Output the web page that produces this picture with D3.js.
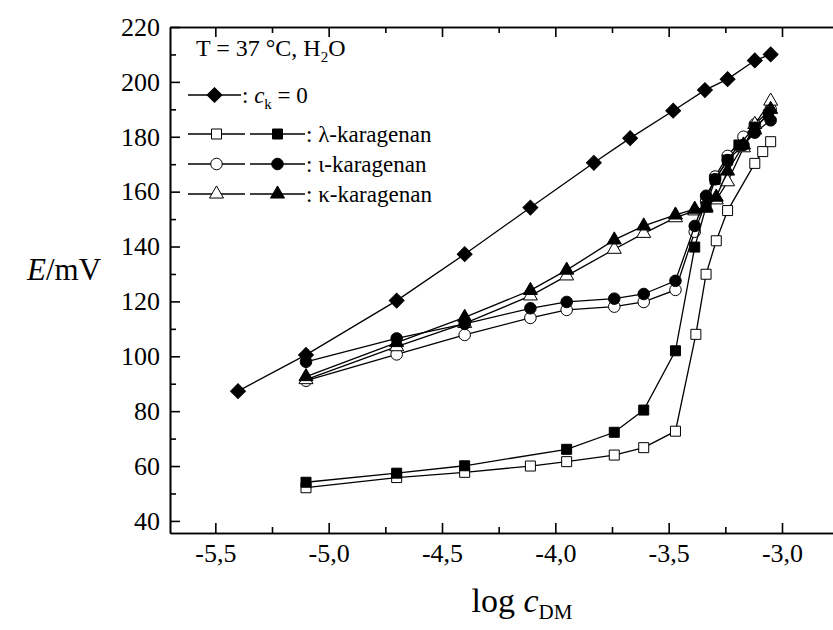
<!DOCTYPE html>
<html>
<head>
<meta charset="utf-8">
<script src="https://d3js.org/d3.v7.min.js"></script>
<style>
  body { margin: 0; background: #fff; }
  .axis path, .axis line { stroke: #000; stroke-width: 1.6px; }
  .line { fill: none; stroke: #000; stroke-width: 1.3px; }
</style>
</head>
<body>
<div id="chart"></div>
<script>
// ---- data ----
const xMajor = [-5.5, -5.0, -4.5, -4.0, -3.5, -3.0];
const xMinor = [-5.25, -4.75, -4.25, -3.75, -3.25, -2.75];
const yMajor = [40, 60, 80, 100, 120, 140, 160, 180, 200, 220];
const yMinor = [50, 70, 90, 110, 130, 150, 170, 190, 210];

const ck0X = [-5.4, -5.1, -4.7, -4.4, -4.11, -3.83, -3.67, -3.48, -3.34, -3.24, -3.12, -3.05];
const ck0Y = [87.3, 100.5, 120.3, 137.2, 154.2, 170.5, 179.5, 189.5, 197.0, 201.0, 207.8, 210.0];

const lambdaOpenX = [-5.1, -4.7, -4.4, -4.11, -3.95, -3.74, -3.61, -3.47, -3.38, -3.335, -3.29, -3.24, -3.12, -3.085, -3.05];
const lambdaOpenY = [52.1, 55.8, 57.7, 60.0, 61.6, 64.0, 66.7, 72.7, 108.0, 129.9, 142.1, 153.1, 170.3, 174.6, 178.2];
const lambdaFullX = [-5.1, -4.7, -4.4, -3.95, -3.74, -3.61, -3.47, -3.385, -3.335, -3.295, -3.24, -3.19, -3.12, -3.06];
const lambdaFullY = [54.1, 57.4, 60.1, 66.1, 72.3, 80.4, 102.0, 139.8, 154.5, 164.5, 171.5, 177.0, 183.5, 188.0];

const iotaX = [-5.1, -4.7, -4.4, -4.11, -3.95, -3.74, -3.61, -3.47, -3.385, -3.335, -3.295, -3.24, -3.17, -3.12, -3.05];
const iotaOpenY = [91.1, 100.7, 107.8, 114.0, 116.9, 118.1, 119.8, 124.2, 145.4, 156.5, 165.5, 173.0, 180.0, 184.5, 190.0];
const iotaFullY = [98.0, 106.5, 111.8, 117.5, 119.8, 121.0, 122.7, 127.5, 147.5, 158.5, 164.5, 171.5, 177.0, 181.5, 186.0];

const kappaX = [-5.1, -4.7, -4.4, -4.11, -3.95, -3.74, -3.61, -3.47, -3.385, -3.335, -3.29, -3.24, -3.17, -3.12, -3.05];
const kappaOpenY = [91.5, 103.5, 112.0, 122.0, 129.3, 139.0, 144.8, 150.5, 153.0, 154.5, 157.0, 163.6, 176.0, 184.5, 193.0];
const kappaFullY = [92.6, 105.0, 114.2, 124.0, 131.4, 142.4, 147.5, 151.5, 153.6, 154.0, 158.0, 167.5, 177.0, 182.5, 190.0];

const SERIF = "'Liberation Serif', 'Times New Roman', serif";
const W = 833, H = 630;
const svg = d3.select("#chart").append("svg")
    .attr("width", W).attr("height", H);
svg.append("rect").attr("width", W).attr("height", H).attr("fill", "#fff");

const x = d3.scaleLinear().domain([-5.7, -2.7]).range([170, 850]);
const y = d3.scaleLinear().domain([35.6, 220]).range([533, 27]);
const fmt = d => d.toFixed(1).replace(".", ",");

// axes, ticks pointing inward
svg.append("g").attr("class", "axis").attr("transform", "translate(0,533)")
    .call(d3.axisBottom(x).tickValues(xMajor).tickFormat(fmt).tickSizeInner(-10).tickSizeOuter(0).tickPadding(11));
svg.append("g").attr("class", "axis").attr("transform", "translate(0,533)")
    .call(d3.axisBottom(x).tickValues(xMinor).tickFormat("").tickSizeInner(-6).tickSizeOuter(0));
svg.append("g").attr("class", "axis").attr("transform", "translate(0,27)")
    .call(d3.axisTop(x).tickValues(xMajor).tickFormat("").tickSizeInner(-10).tickSizeOuter(0));
svg.append("g").attr("class", "axis").attr("transform", "translate(0,27)")
    .call(d3.axisTop(x).tickValues(xMinor).tickFormat("").tickSizeInner(-6).tickSizeOuter(0));
svg.append("g").attr("class", "axis").attr("transform", "translate(170,0)")
    .call(d3.axisLeft(y).tickValues(yMajor).tickFormat(d3.format("d")).tickSizeInner(-10).tickSizeOuter(0).tickPadding(10));
svg.append("g").attr("class", "axis").attr("transform", "translate(170,0)")
    .call(d3.axisLeft(y).tickValues(yMinor).tickFormat("").tickSizeInner(-6).tickSizeOuter(0));

svg.selectAll(".tick text").style("font-size", "26px").style("fill", "#000");

// axis titles
const yl = svg.append("text").attr("x", 27).attr("y", 280).style("font-size", "31px");
yl.append("tspan").attr("font-style", "italic").text("E");
yl.append("tspan").text("/mV");

const xl = svg.append("text").attr("x", 522).attr("y", 612).attr("text-anchor", "middle").style("font-size", "34px");
xl.append("tspan").text("log ");
xl.append("tspan").attr("font-style", "italic").text("c");
xl.append("tspan").style("font-size", "21px").attr("dy", 7).text("DM");

// markers
const sym = {
  square: d3.symbol().type(d3.symbolSquare).size(100),
  circle: d3.symbol().type(d3.symbolCircle).size(105),
  triangle: d3.symbol().type(d3.symbolTriangle).size(85),
  diamond: d3.symbol().type(d3.symbolSquare).size(110)
};

function drawSeries(xs, ys, shape, filled) {
  const pts = xs.map((v, i) => [v, ys[i]]);
  svg.append("path").datum(pts).attr("class", "line")
      .attr("d", d3.line().x(d => x(d[0])).y(d => y(d[1])));
  svg.append("g").selectAll("path").data(pts).join("path")
      .attr("d", sym[shape]())
      .attr("transform", d => `translate(${x(d[0])},${y(d[1])})` + (shape === "diamond" ? " rotate(45)" : ""))
      .attr("fill", filled ? "#000" : "#fff")
      .attr("stroke", "#000").attr("stroke-width", 1);
}

drawSeries(ck0X, ck0Y, "diamond", true);
drawSeries(lambdaOpenX, lambdaOpenY, "square", false);
drawSeries(iotaX, iotaOpenY, "circle", false);
drawSeries(kappaX, kappaOpenY, "triangle", false);
drawSeries(lambdaFullX, lambdaFullY, "square", true);
drawSeries(iotaX, iotaFullY, "circle", true);
drawSeries(kappaX, kappaFullY, "triangle", true);

// legend
const lg = svg.append("g");
const t = lg.append("text").attr("x", 196).attr("y", 56).style("font-size", "24px");
t.append("tspan").text("T = 37 °C, H");
t.append("tspan").style("font-size", "15px").attr("dy", 6).text("2");
t.append("tspan").attr("dy", -6).text("O");

function legendSym(x0, x1, yy, shape, filled) {
  lg.append("line").attr("x1", x0).attr("x2", x1).attr("y1", yy).attr("y2", yy)
      .attr("stroke", "#000").attr("stroke-width", 1.3);
  lg.append("path").attr("d", sym[shape]())
      .attr("transform", `translate(${(x0 + x1) / 2},${yy})` + (shape === "diamond" ? " rotate(45)" : ""))
      .attr("fill", filled ? "#000" : "#fff").attr("stroke", "#000");
}

const rows = [
  {yy: 95, shapes: [["diamond", true]]},
  {yy: 134, shapes: [["square", false], ["square", true]], label: ": λ-karagenan"},
  {yy: 164, shapes: [["circle", false], ["circle", true]], label: ": ι-karagenan"},
  {yy: 194, shapes: [["triangle", false], ["triangle", true]], label: ": κ-karagenan"}
];
rows.forEach(r => {
  if (r.shapes.length === 1) {
    legendSym(188, 241, r.yy, r.shapes[0][0], r.shapes[0][1]);
    const tx = lg.append("text").attr("x", 242).attr("y", r.yy + 8).style("font-size", "23px");
    tx.append("tspan").text(": ");
    tx.append("tspan").attr("font-style", "italic").text("c");
    tx.append("tspan").style("font-size", "15px").attr("dy", 6).text("k");
    tx.append("tspan").attr("dy", -6).text(" = 0");
  } else {
    legendSym(188, 245, r.yy, r.shapes[0][0], r.shapes[0][1]);
    legendSym(250, 305, r.yy, r.shapes[1][0], r.shapes[1][1]);
    lg.append("text").attr("x", 306).attr("y", r.yy + 8).style("font-size", "23px").text(r.label);
  }
});

svg.selectAll("text").style("font-family", SERIF);
</script>
</body>
</html>
